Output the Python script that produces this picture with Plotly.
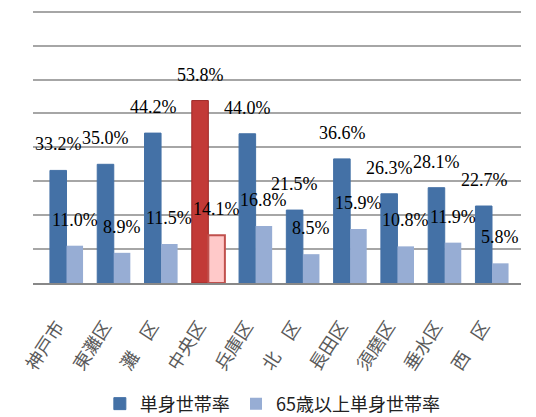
import plotly.graph_objects as go

categories = ["神戸市", "東灘区", "灘　区", "中央区", "兵庫区", "北　区", "長田区", "須磨区", "垂水区", "西　区"]
single_rate = [33.2, 35.0, 44.2, 53.8, 44.0, 21.5, 36.6, 26.3, 28.1, 22.7]
elderly_single_rate = [11.0, 8.9, 11.5, 14.1, 16.8, 8.5, 15.9, 10.8, 11.9, 5.8]
series_names = ["単身世帯率", "65歳以上単身世帯率"]
highlight = "中央区"

BLUE = "#4471A6"
LIGHT = "#97ADD4"
RED = "#C23A37"
PINK = "#FFC9C9"

blue_colors = [RED if c == highlight else BLUE for c in categories]
blue_lines = ["#9E2A28" if c == highlight else BLUE for c in categories]
light_colors = [PINK if c == highlight else LIGHT for c in categories]
light_lines = ["#C0504D" if c == highlight else LIGHT for c in categories]
light_lw = [2 if c == highlight else 0 for c in categories]

fig = go.Figure()
fig.add_trace(go.Bar(x=categories, y=single_rate, name=series_names[0],
                     marker=dict(color=blue_colors, line=dict(color=blue_lines, width=1)),
                     offsetgroup="a", legend="legend"))
fig.add_trace(go.Bar(x=categories, y=elderly_single_rate, name=series_names[1],
                     marker=dict(color=light_colors, line=dict(color=light_lines, width=light_lw)),
                     offsetgroup="b", legend="legend2"))

label_font = dict(family="Liberation Serif", size=18, color="#000000")
for i, c in enumerate(categories):
    fig.add_annotation(x=c, y=single_rate[i], text=f"{single_rate[i]:.1f}%", showarrow=False,
                       xshift=-8, yshift=26, font=label_font)
    fig.add_annotation(x=c, y=elderly_single_rate[i], text=f"{elderly_single_rate[i]:.1f}%", showarrow=False,
                       xshift=8, yshift=26, font=label_font)

legend_font = dict(family="Noto Sans CJK JP", size=18, color="#222222")
# page body adds an 8px margin, so the figure is 8px smaller and shifted
fig.update_layout(
    width=528, height=409,
    margin=dict(l=25, r=15, t=2, b=134, autoexpand=False),
    paper_bgcolor="white", plot_bgcolor="white",
    bargap=0.3, bargroupgap=0,
    showlegend=True,
    legend=dict(orientation="h", x=0.137, xanchor="left", y=-0.443, yanchor="middle",
                font=legend_font, itemwidth=30),
    legend2=dict(orientation="h", x=0.416, xanchor="left", y=-0.443, yanchor="middle",
                 font=legend_font, itemwidth=30),
    xaxis=dict(tickangle=-57, ticklabelstandoff=24, ticklabelshift=-9, automargin=False,
               tickfont=dict(family="Noto Sans CJK JP", size=18, color="#5A5A5A"),
               showline=True, linecolor="#888888", linewidth=2, showgrid=False, ticks=""),
    yaxis=dict(range=[0, 80.5], dtick=10, showticklabels=False, showgrid=True, automargin=False,
               gridcolor="#A6A6A6", gridwidth=2, zeroline=False, showline=False, ticks=""),
)

fig.write_html("out.html")
